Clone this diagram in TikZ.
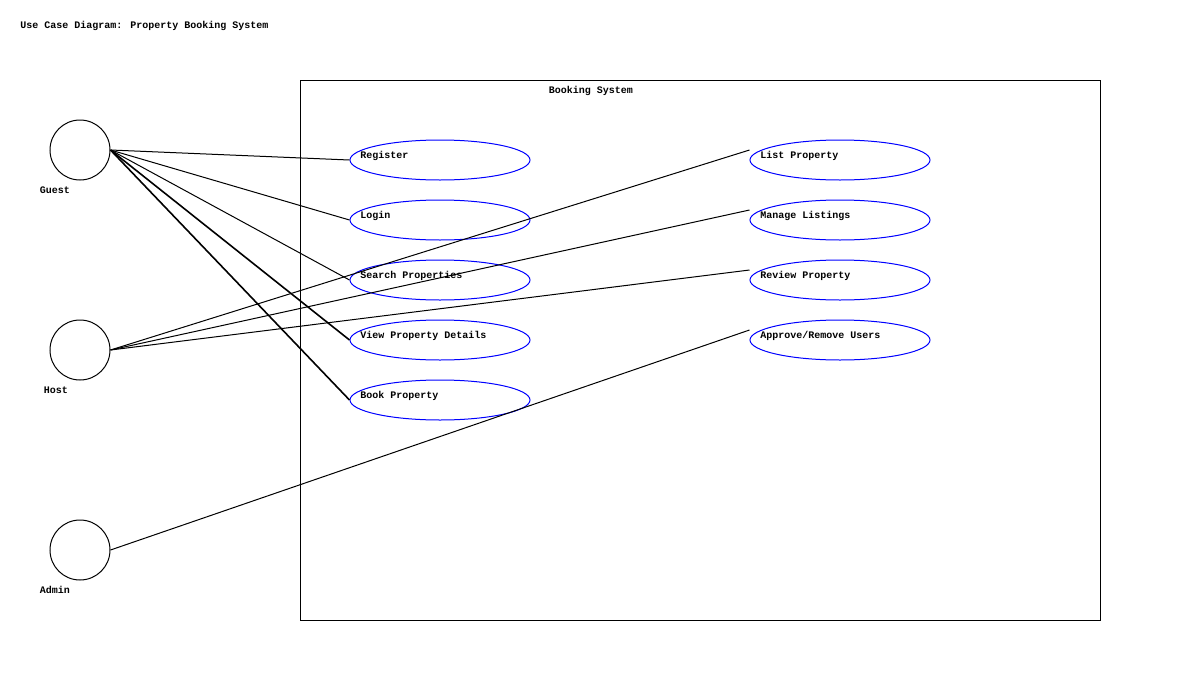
\documentclass[tikz,border=0pt]{standalone}
\usepackage{fontspec}
\setmainfont{Liberation Mono}
\usetikzlibrary{shapes.geometric,calc}
\tikzset{
  txt/.style={inner sep=0pt,font=\fontsize{7.5}{9}\selectfont\bfseries},
  uc/.style={draw=blue,ellipse,minimum width=135pt,minimum height=30pt,inner sep=0pt,line width=0.75pt},
  actor/.style={draw,circle,minimum size=45pt,inner sep=0pt,line width=0.75pt},
  assoc/.style={line width=0.75pt},
  assocb/.style={line width=1.2pt}
}
\begin{document}
\begin{tikzpicture}[x=0.75pt,y=-0.75pt]
\useasboundingbox (0,0) rectangle (1200,700);
\node[txt,anchor=west] (title) at (20,26) {Use Case Diagram: Property Booking System};
\node[draw,line width=0.75pt,minimum width=600pt,minimum height=405pt,inner sep=0pt] (sys) at (700,350) {};
\node[txt] (systitle) at (591,91) {Booking System};
% actors
\node[actor] (guest) at (80,150) {};
\node[txt] (guestl) at (55,190) {Guest};
\node[actor] (host) at (80,350) {};
\node[txt] (hostl) at (56,390) {Host};
\node[actor] (admin) at (80,550) {};
\node[txt] (adminl) at (55,590) {Admin};
% use cases left
\node[uc] (reg) at (440,160) {};
\node[txt,anchor=west] at (360,156) {Register};
\node[uc] (login) at (440,220) {};
\node[txt,anchor=west] at (360,216) {Login};
\node[uc] (search) at (440,280) {};
\node[txt,anchor=west] at (360,276) {Search Properties};
\node[uc] (view) at (440,340) {};
\node[txt,anchor=west] at (360,336) {View Property Details};
\node[uc] (book) at (440,400) {};
\node[txt,anchor=west] at (360,396) {Book Property};
% use cases right
\node[uc] (list) at (840,160) {};
\node[txt,anchor=west] at (760,156) {List Property};
\node[uc] (manage) at (840,220) {};
\node[txt,anchor=west] at (760,216) {Manage Listings};
\node[uc] (review) at (840,280) {};
\node[txt,anchor=west] at (760,276) {Review Property};
\node[uc] (approve) at (840,340) {};
\node[txt,anchor=west] at (760,336) {Approve/Remove Users};
% associations
\draw[assoc] (guest.east) -- (reg.west);
\draw[assoc] (guest.east) -- (login.west);
\draw[assoc] (guest.east) -- (search.west);
\draw[assocb] (guest.east) -- (view.west);
\draw[assocb] (guest.east) -- (book.west);
\draw[assoc] (host.east) -- ($(list.west)+(0,-10)$);
\draw[assoc] (host.east) -- ($(manage.west)+(0,-10)$);
\draw[assoc] (host.east) -- ($(review.west)+(0,-10)$);
\draw[assoc] (admin.east) -- ($(approve.west)+(0,-10)$);
\end{tikzpicture}
\end{document}
